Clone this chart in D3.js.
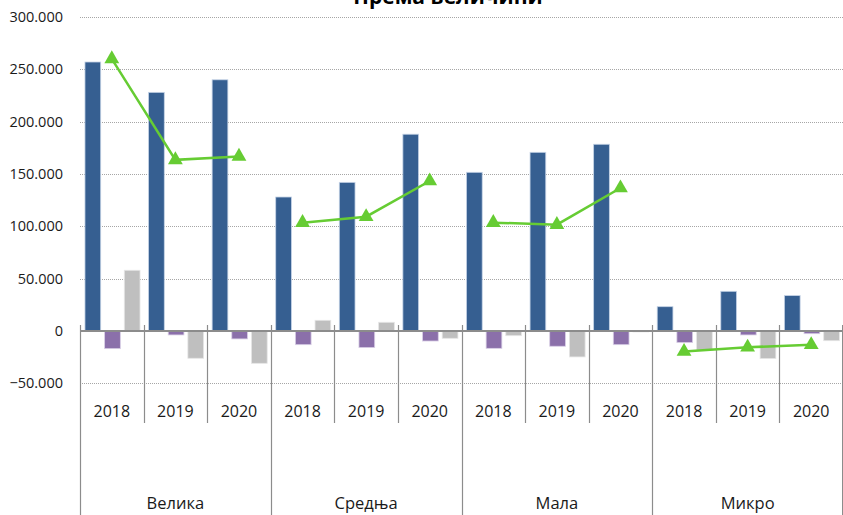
<!DOCTYPE html>
<html>
<head>
<meta charset="utf-8">
<script src="https://cdn.jsdelivr.net/npm/d3@7"></script>
<style>
  body { margin: 0; background: #fff; }
  svg { display: block; font-family: "Open Sans", "Noto Sans", sans-serif; }
</style>
</head>
<body>
<div class="graph"></div>
<script>
// chart data
var categories = ["Велика", "Средња", "Мала", "Микро"];
var years = ["2018", "2019", "2020"];
var blueVals   = [257000, 228000, 240000, 128000, 142000, 188000, 151600, 170700, 178400, 23200, 37900, 33800];
var purpleVals = [-16900, -3800, -7600, -13100, -15900, -9600, -16600, -14600, -13100, -11100, -3800, -2600];
var grayVals   = [58000, -26100, -30900, 10200, 8300, -7000, -4500, -24800, -900, -18200, -26400, -9300];
var lineVals   = [260000, 163500, 166800, 103500, 109200, 143300, 103500, 101600, 136600, -19700, -15600, -13100];
var yTicks = [-50000, 0, 50000, 100000, 150000, 200000, 250000, 300000];

var width = 843, height = 515;
var left = 80, right = 843;

var svg = d3.select(".graph").append("svg")
    .attr("width", width)
    .attr("height", height);

// group keys: category|year
var groups = [];
categories.forEach(function(c) {
  years.forEach(function(y) { groups.push(c + "|" + y); });
});

var x = d3.scaleBand().domain(groups).range([left, right]).padding(0);
var inner = d3.scaleBand().domain(["b", "p", "g"])
    .range([3, x.bandwidth() - 1.6])
    .paddingInner(0.2).paddingOuter(0.1);
var y = d3.scaleLinear().domain([-50000, 300000]).range([383.3, 17]);

var fmt = function(v) {
  if (v === 0) return "0";
  return d3.format(",")(v).replace(/,/g, ".");
};

// grid lines
svg.append("g").selectAll("line")
  .data(yTicks.filter(function(d) { return d !== 0; }))
  .enter().append("line")
    .attr("x1", left).attr("x2", right)
    .attr("y1", function(d) { return Math.round(y(d)) + 0.5; })
    .attr("y2", function(d) { return Math.round(y(d)) + 0.5; })
    .attr("stroke", "#a6a6a6")
    .attr("stroke-width", 1)
    .attr("stroke-dasharray", "1,1");

// y labels
svg.append("g").selectAll("text")
  .data(yTicks)
  .enter().append("text")
    .attr("x", 63)
    .attr("y", function(d) { return y(d) + 5; })
    .attr("text-anchor", "end")
    .attr("font-size", "14.5px")
    .attr("fill", "#1a1a1a")
    .text(fmt);

// bars
var series = [
  {key: "b", vals: blueVals, color: "#365f91", edge: "#c5d3e6"},
  {key: "p", vals: purpleVals, color: "#8b70aa", edge: "#d9d0e6"},
  {key: "g", vals: grayVals, color: "#bfbfbf", edge: "#e6e6e6"}
];
series.forEach(function(s) {
  svg.append("g").selectAll("rect")
    .data(s.vals)
    .enter().append("rect")
      .attr("x", function(d, i) { return x(groups[i]) + inner(s.key); })
      .attr("width", inner.bandwidth())
      .attr("y", function(d) { return y(Math.max(0, d)); })
      .attr("height", function(d) { return Math.abs(y(d) - y(0)); })
      .attr("fill", s.color)
      .attr("stroke", s.edge)
      .attr("stroke-width", 0.8);
});

// zero axis
svg.append("line")
  .attr("x1", left).attr("x2", right)
  .attr("y1", y(0)).attr("y2", y(0))
  .attr("stroke", "#8c8c8c")
  .attr("stroke-width", 2);

// year separators and category separators
groups.forEach(function(g, i) {
  var xx = Math.round(x(g)) + 0.5;
  svg.append("line")
    .attr("x1", xx).attr("x2", xx)
    .attr("y1", y(0) - 6)
    .attr("y2", i % 3 === 0 ? 515 : 423)
    .attr("stroke", "#8c8c8c")
    .attr("stroke-width", 1.2);
});
svg.append("line")
  .attr("x1", right - 0.5).attr("x2", right - 0.5)
  .attr("y1", y(0) - 6).attr("y2", 515)
  .attr("stroke", "#8c8c8c");

// year labels
svg.append("g").selectAll("text")
  .data(groups)
  .enter().append("text")
    .attr("x", function(d) { return x(d) + x.bandwidth() / 2; })
    .attr("y", 417)
    .attr("text-anchor", "middle")
    .attr("font-size", "16px")
    .attr("fill", "#1a1a1a")
    .text(function(d) { return d.split("|")[1]; });

// category labels
svg.append("g").selectAll("text")
  .data(categories)
  .enter().append("text")
    .attr("x", function(c) { return x(c + "|2019") + x.bandwidth() / 2; })
    .attr("y", 509)
    .attr("text-anchor", "middle")
    .attr("font-size", "16.5px")
    .attr("fill", "#1a1a1a")
    .text(function(c) { return c; });

// green lines per category
var valueline = d3.line()
  .x(function(d) { return x(d.g) + x.bandwidth() / 2; })
  .y(function(d) { return y(d.v); });

categories.forEach(function(c, ci) {
  var pts = years.map(function(yr, yi) {
    return {g: c + "|" + yr, v: lineVals[ci * 3 + yi]};
  });
  svg.append("path")
    .datum(pts)
    .attr("d", valueline)
    .attr("fill", "none")
    .attr("stroke", "#66cc33")
    .attr("stroke-width", 2.5);
  svg.append("g").selectAll("path")
    .data(pts)
    .enter().append("path")
      .attr("d", d3.symbol().type(d3.symbolTriangle).size(95))
      .attr("transform", function(d) {
        return "translate(" + (x(d.g) + x.bandwidth() / 2) + "," + y(d.v) + ")";
      })
      .attr("fill", "#66cc33");
});

// title (cut off at top, as in the source)
svg.append("text")
  .attr("x", 448)
  .attr("y", 4)
  .attr("text-anchor", "middle")
  .attr("font-size", "21px")
  .attr("font-weight", "bold")
  .attr("fill", "#000")
  .text("Према величини");
</script>
</body>
</html>
